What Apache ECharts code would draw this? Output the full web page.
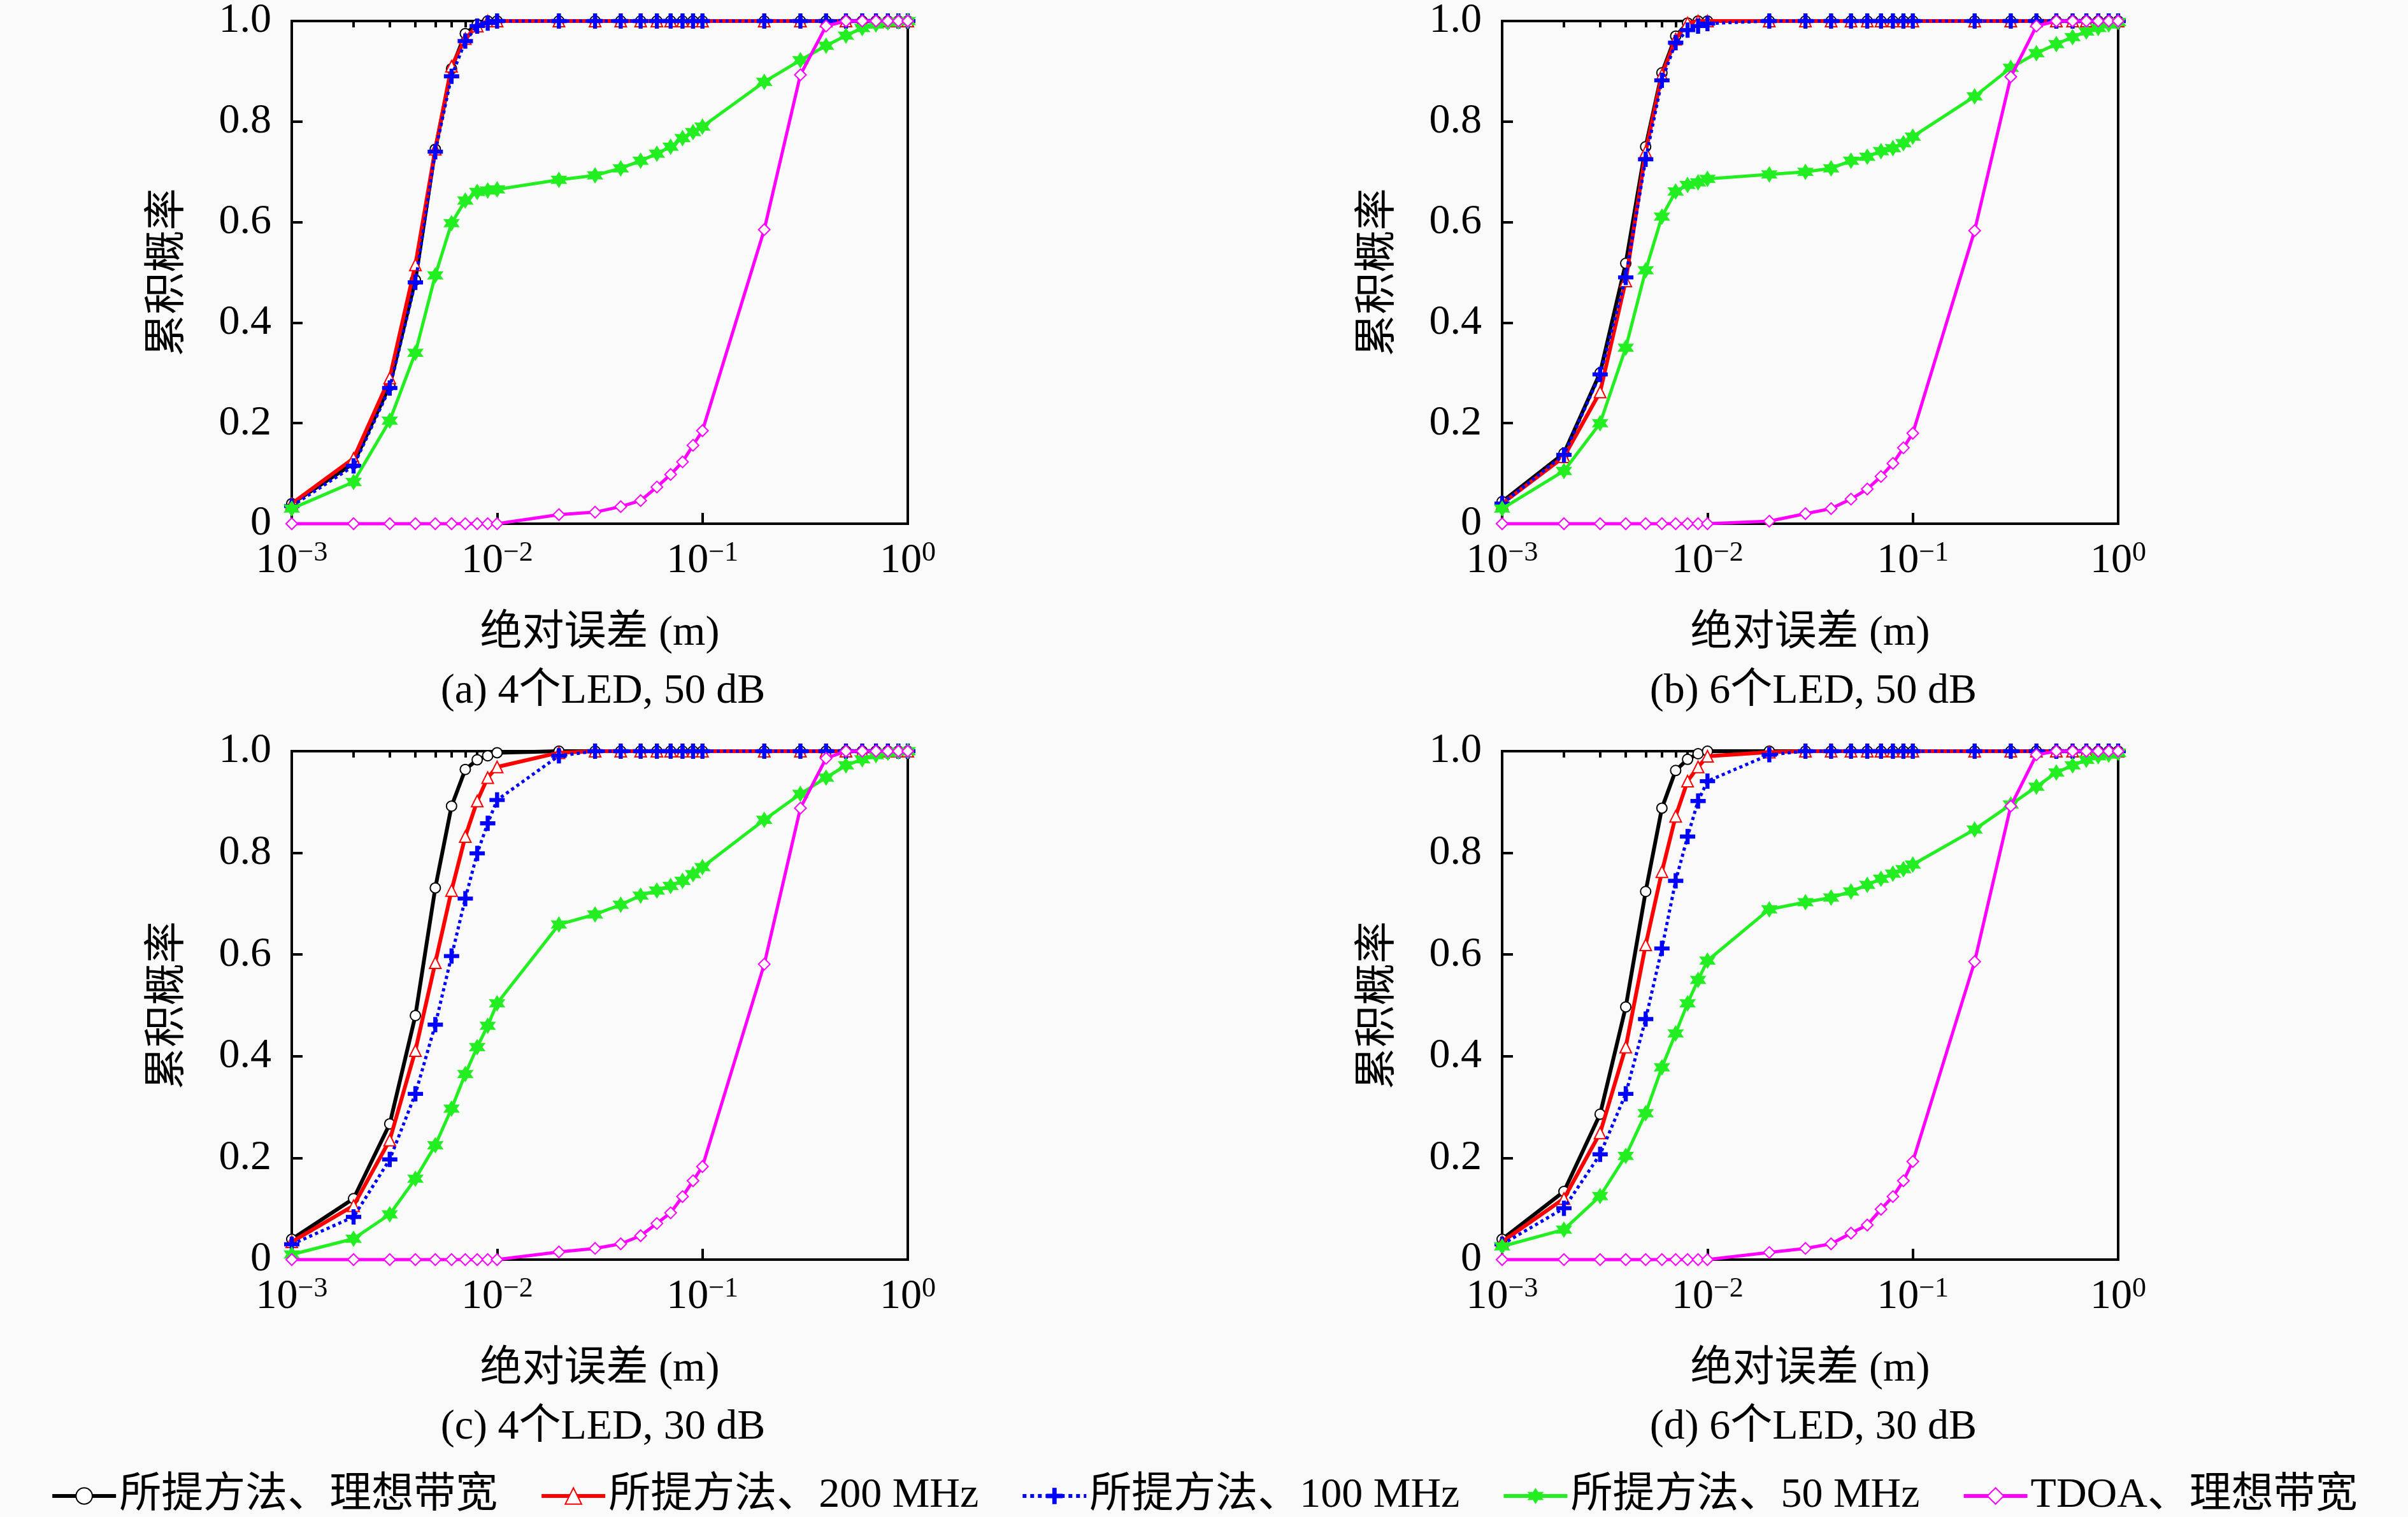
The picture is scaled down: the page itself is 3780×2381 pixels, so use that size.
<!DOCTYPE html>
<html>
<head>
<meta charset="utf-8">
<script src="https://cdn.jsdelivr.net/npm/echarts@6/dist/echarts.min.js"></script>
<style>
  html, body { margin: 0; padding: 0; background: #fafafa; }
  #chart { width: 3780px; height: 2381px; }
</style>
</head>
<body>
<div id="chart"></div>
<script>
// error thresholds (m), shared by every curve
const xs = [0.001, 0.002, 0.003, 0.004, 0.005, 0.006, 0.007, 0.008, 0.009,
  0.01, 0.02, 0.03, 0.04, 0.05, 0.06, 0.07, 0.08, 0.09, 0.1,
  0.2, 0.3, 0.4, 0.5, 0.6, 0.7, 0.8, 0.9, 1];

const majorTicks = [0.001, 0.01, 0.1, 1];
const minorTicks = [0.002, 0.003, 0.004, 0.005, 0.006, 0.007, 0.008, 0.009,
  0.02, 0.03, 0.04, 0.05, 0.06, 0.07, 0.08, 0.09,
  0.2, 0.3, 0.4, 0.5, 0.6, 0.7, 0.8, 0.9];
const yTicks = [0, 0.2, 0.4, 0.6, 0.8, 1.0];

const seriesNames = ['所提方法、理想带宽', '所提方法、200 MHz', '所提方法、100 MHz', '所提方法、50 MHz', 'TDOA、理想带宽'];
const panelTitles = ['(a) 4个LED, 50 dB', '(b) 6个LED, 50 dB', '(c) 4个LED, 30 dB', '(d) 6个LED, 30 dB'];

// (a) 4 LED, 50 dB
const aIdeal = [0.04, 0.12, 0.275, 0.485, 0.745, 0.905, 0.975, 0.993, 1, 1, 1, 1, 1, 1, 1, 1, 1, 1, 1, 1, 1, 1, 1, 1, 1, 1, 1, 1];
const a200 = [0.04, 0.13, 0.29, 0.515, 0.745, 0.91, 0.965, 0.99, 1, 1, 1, 1, 1, 1, 1, 1, 1, 1, 1, 1, 1, 1, 1, 1, 1, 1, 1, 1];
const a100 = [0.035, 0.115, 0.27, 0.48, 0.74, 0.89, 0.96, 0.99, 0.996, 1, 1, 1, 1, 1, 1, 1, 1, 1, 1, 1, 1, 1, 1, 1, 1, 1, 1, 1];
const a50 = [0.03, 0.083, 0.205, 0.34, 0.494, 0.598, 0.643, 0.66, 0.663, 0.665, 0.684, 0.693, 0.707, 0.722, 0.736, 0.75, 0.767, 0.779, 0.79, 0.879, 0.922, 0.951, 0.971, 0.986, 0.993, 0.997, 0.999, 1];
const aTdoa = [0, 0, 0, 0, 0, 0, 0, 0, 0, 0, 0.018, 0.023, 0.034, 0.046, 0.073, 0.098, 0.123, 0.156, 0.185, 0.585, 0.893, 0.99, 1, 1, 1, 1, 1, 1];

// (b) 6 LED, 50 dB
const bIdeal = [0.044, 0.14, 0.30, 0.518, 0.75, 0.897, 0.97, 0.996, 1, 1, 1, 1, 1, 1, 1, 1, 1, 1, 1, 1, 1, 1, 1, 1, 1, 1, 1, 1];
const b200 = [0.04, 0.133, 0.262, 0.483, 0.74, 0.893, 0.964, 0.996, 1, 1, 1, 1, 1, 1, 1, 1, 1, 1, 1, 1, 1, 1, 1, 1, 1, 1, 1, 1];
const b100 = [0.04, 0.137, 0.297, 0.49, 0.725, 0.882, 0.957, 0.982, 0.99, 0.995, 1, 1, 1, 1, 1, 1, 1, 1, 1, 1, 1, 1, 1, 1, 1, 1, 1, 1];
const b50 = [0.03, 0.105, 0.2, 0.35, 0.504, 0.611, 0.661, 0.674, 0.679, 0.686, 0.695, 0.70, 0.707, 0.722, 0.73, 0.741, 0.747, 0.757, 0.77, 0.85, 0.907, 0.936, 0.954, 0.968, 0.979, 0.986, 0.993, 0.998];
const bTdoa = [0, 0, 0, 0, 0, 0, 0, 0, 0, 0, 0.005, 0.02, 0.03, 0.049, 0.069, 0.094, 0.12, 0.151, 0.18, 0.583, 0.889, 0.99, 1, 1, 1, 1, 1, 1];

// (c) 4 LED, 30 dB
const cIdeal = [0.04, 0.12, 0.267, 0.48, 0.731, 0.892, 0.964, 0.983, 0.991, 0.997, 1, 1, 1, 1, 1, 1, 1, 1, 1, 1, 1, 1, 1, 1, 1, 1, 1, 1];
const c200 = [0.035, 0.106, 0.235, 0.411, 0.584, 0.726, 0.832, 0.902, 0.948, 0.969, 0.997, 1, 1, 1, 1, 1, 1, 1, 1, 1, 1, 1, 1, 1, 1, 1, 1, 1];
const c100 = [0.03, 0.084, 0.197, 0.326, 0.462, 0.597, 0.71, 0.799, 0.858, 0.904, 0.991, 1, 1, 1, 1, 1, 1, 1, 1, 1, 1, 1, 1, 1, 1, 1, 1, 1];
const c50 = [0.01, 0.041, 0.089, 0.159, 0.225, 0.297, 0.365, 0.418, 0.46, 0.504, 0.659, 0.679, 0.698, 0.716, 0.726, 0.735, 0.745, 0.758, 0.772, 0.865, 0.916, 0.948, 0.972, 0.984, 0.992, 0.997, 0.999, 1];
const cTdoa = [0, 0, 0, 0, 0, 0, 0, 0, 0, 0, 0.015, 0.022, 0.031, 0.047, 0.071, 0.092, 0.124, 0.155, 0.183, 0.581, 0.888, 0.986, 1, 1, 1, 1, 1, 1];

// (d) 6 LED, 30 dB
const dIdeal = [0.04, 0.134, 0.286, 0.497, 0.724, 0.888, 0.962, 0.984, 0.995, 1, 1, 1, 1, 1, 1, 1, 1, 1, 1, 1, 1, 1, 1, 1, 1, 1, 1, 1];
const d200 = [0.035, 0.12, 0.249, 0.418, 0.619, 0.763, 0.872, 0.941, 0.969, 0.99, 0.998, 1, 1, 1, 1, 1, 1, 1, 1, 1, 1, 1, 1, 1, 1, 1, 1, 1];
const d100 = [0.03, 0.101, 0.207, 0.326, 0.473, 0.612, 0.745, 0.832, 0.902, 0.941, 0.993, 1, 1, 1, 1, 1, 1, 1, 1, 1, 1, 1, 1, 1, 1, 1, 1, 1];
const d50 = [0.026, 0.059, 0.125, 0.204, 0.288, 0.378, 0.445, 0.504, 0.55, 0.588, 0.689, 0.703, 0.712, 0.724, 0.737, 0.749, 0.759, 0.768, 0.777, 0.846, 0.895, 0.93, 0.958, 0.972, 0.983, 0.99, 0.993, 0.997];
const dTdoa = [0, 0, 0, 0, 0, 0, 0, 0, 0, 0, 0.014, 0.022, 0.031, 0.052, 0.068, 0.099, 0.124, 0.155, 0.193, 0.586, 0.892, 0.993, 1, 1, 1, 1, 1, 1];

const panelData = [
  [aIdeal, a200, a100, a50, aTdoa],
  [bIdeal, b200, b100, b50, bTdoa],
  [cIdeal, c200, c100, c50, cTdoa],
  [dIdeal, d200, d100, d50, dTdoa]
];

const FONT = '"Liberation Serif", "Noto Sans CJK SC", serif';
const BG = '#fafafa';
const plusPath = 'path://M-1.6,-6L1.6,-6L1.6,-1.6L6,-1.6L6,1.6L1.6,1.6L1.6,6L-1.6,6L-1.6,1.6L-6,1.6L-6,-1.6L-1.6,-1.6Z';
const starPath = 'path://M0,-10L2.8,-4.8L8.7,-5L5.6,0L8.7,5L2.8,4.8L0,10L-2.8,4.8L-8.7,5L-5.6,0L-8.7,-5L-2.8,-4.8Z';

const looks = [
  { color: '#000000', symbol: 'emptyCircle', size: 16, line: 'solid', width: 6 },
  { color: '#ff0000', symbol: 'emptyTriangle', size: 18, line: 'solid', width: 6 },
  { color: '#0000ff', symbol: plusPath, size: 24, line: 'dotted', width: 5 },
  { color: '#22ee22', symbol: starPath, size: 26, line: 'solid', width: 5 },
  { color: '#ff00ff', symbol: 'emptyDiamond', size: 18, line: 'solid', width: 5 }
];

const gridLeft = [458, 2358];
const gridTop = [24, 1179];
const gridW = 967, gridH = 798;

const grids = [], xAxes = [], yAxes = [], titles = [], series = [];

function expLabel(v) {
  const e = Math.round(Math.log10(v));
  return '{b|10}{s|' + (e < 0 ? '\u2212' + (-e) : e) + '}';
}

panelData.forEach((lines, i) => {
  const left = gridLeft[i % 2], top = gridTop[Math.floor(i / 2)];
  grids.push({
    left: left, top: top, width: gridW, height: gridH,
    show: true, borderColor: '#000', borderWidth: 4, backgroundColor: BG
  });
  xAxes.push({
    type: 'log', logBase: 10, gridIndex: i, min: 0.001, max: 1,
    name: '绝对误差 (m)', nameLocation: 'middle', nameGap: 140,
    nameTextStyle: { fontSize: 66, fontFamily: FONT, color: '#000' },
    axisLine: { show: true, lineStyle: { color: '#000', width: 4 } },
    axisTick: { show: true, inside: true, length: 17, customValues: majorTicks, lineStyle: { color: '#000', width: 4 } },
    axisLabel: {
      customValues: majorTicks, margin: 24, formatter: expLabel,
      rich: {
        b: { fontSize: 66, fontFamily: FONT, color: '#000', lineHeight: 70 },
        s: { fontSize: 44, fontFamily: FONT, color: '#000', verticalAlign: 'top', lineHeight: 44 }
      }
    },
    splitLine: { show: false }, minorTick: { show: false }
  });
  xAxes.push({
    type: 'log', logBase: 10, gridIndex: i, min: 0.001, max: 1,
    axisLine: { show: false },
    axisTick: { show: true, inside: true, length: 10, customValues: minorTicks, lineStyle: { color: '#000', width: 4 } },
    axisLabel: { show: false }, splitLine: { show: false }
  });
  yAxes.push({
    type: 'value', gridIndex: i, min: 0, max: 1, interval: 0.2,
    name: '累积概率', nameLocation: 'middle', nameGap: 160,
    nameTextStyle: { fontSize: 66, fontFamily: FONT, color: '#000' },
    axisLine: { show: true, lineStyle: { color: '#000', width: 4 } },
    axisTick: { show: true, inside: true, length: 17, lineStyle: { color: '#000', width: 4 } },
    axisLabel: {
      margin: 32, fontSize: 66, fontFamily: FONT, color: '#000',
      customValues: yTicks,
      formatter: v => (v === 0 ? '0' : v.toFixed(1))
    },
    splitLine: { show: false }
  });
  titles.push({
    text: panelTitles[i], left: left + gridW / 2, top: top + 1024, textAlign: 'center',
    textStyle: { fontSize: 66, fontWeight: 'normal', fontFamily: FONT, color: '#000' }
  });
  lines.forEach((ys, k) => {
    const lk = looks[k];
    series.push({
      type: 'line', name: seriesNames[k],
      xAxisIndex: i * 2, yAxisIndex: i,
      data: xs.map((x, j) => [x, ys[j]]),
      symbol: lk.symbol, symbolSize: lk.size,
      lineStyle: { color: lk.color, width: lk.width, type: lk.line },
      itemStyle: { color: lk.color, borderWidth: 4 },
      clip: false, z: 2 + k
    });
  });
});

const chart = echarts.init(document.getElementById('chart'), null, { renderer: 'canvas' });
chart.setOption({
  backgroundColor: BG,
  animation: false,
  title: titles,
  legend: {
    data: seriesNames, left: 'center', top: 2310,
    itemWidth: 100, itemHeight: 32, itemGap: 66,
    lineStyle: { width: 6 },
    textStyle: { fontSize: 66, fontFamily: FONT, color: '#000' }
  },
  grid: grids,
  xAxis: xAxes,
  yAxis: yAxes,
  series: series
});
</script>
</body>
</html>
